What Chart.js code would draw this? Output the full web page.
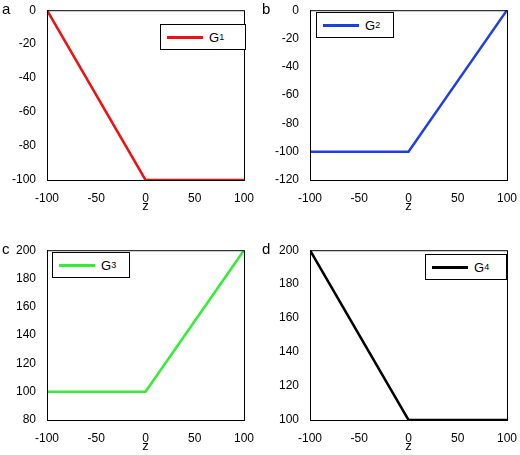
<!DOCTYPE html>
<html><head><meta charset="utf-8">
<script src="https://cdn.jsdelivr.net/npm/chart.js@4"></script>
<style>
body{margin:0;background:#fff;font-family:"Liberation Sans",Arial,sans-serif}
#wrap{position:relative;width:520px;height:455px}
canvas{position:absolute}
.lbl{position:absolute;font-size:15px}
.leg{position:absolute;border:1px solid #000;background:#fff;font-size:13px;display:flex;align-items:center;height:24px}
.leg sub{font-size:9px}
.leg span.l{display:inline-block;width:36px;height:3px;margin:0 6px}
</style></head><body>
<div id="wrap">
<canvas id="ca" style="left:0;top:0"></canvas>
<canvas id="cb" style="left:260px;top:0"></canvas>
<canvas id="cc" style="left:0;top:240px"></canvas>
<canvas id="cd" style="left:260px;top:240px"></canvas>
<div class="lbl" style="left:2px;top:0">a</div>
<div class="lbl" style="left:262px;top:0">b</div>
<div class="lbl" style="left:2px;top:240px">c</div>
<div class="lbl" style="left:262px;top:240px">d</div>
<div class="leg" style="left:160px;top:24px;width:84px"><span class="l" style="background:#ee1111"></span>G<sub>1</sub></div>
<div class="leg" style="left:316px;top:12px;width:76px"><span class="l" style="background:#1f3fe0"></span>G<sub>2</sub></div>
<div class="leg" style="left:52px;top:252px;width:76px"><span class="l" style="background:#33ee33"></span>G<sub>3</sub></div>
<div class="leg" style="left:425px;top:254px;width:80px"><span class="l" style="background:#000"></span>G<sub>4</sub></div>
</div>
<script>
const zVals = [-100, 0, 100];
const g1 = [0, -100, -100];
const g2 = [-100, -100, 0];
const g3 = [100, 100, 200];
const g4 = [200, 100, 100];

const frame = {
  id: 'frame',
  afterDraw(c) {
    const a = c.chartArea, ctx = c.ctx;
    ctx.save(); ctx.strokeStyle = '#000'; ctx.lineWidth = 1;
    ctx.strokeRect(a.left + 0.5, a.top + 0.5, a.right - a.left, a.bottom - a.top);
    ctx.restore();
  }
};

function panel(id, w, yW, ys, color, ymin, ymax, rightPad) {
  const cv = document.getElementById(id);
  cv.width = w; cv.height = 214;
  cv.style.width = w + 'px'; cv.style.height = '214px';
  new Chart(cv, {
    type: 'scatter',
    data: { datasets: [{ data: zVals.map((z, i) => ({ x: z, y: ys[i] })), showLine: true,
      borderColor: color, borderWidth: 2.5, pointRadius: 0 }] },
    options: {
      responsive: false, animation: false,
      layout: { padding: { top: 7, right: rightPad } },
      plugins: { legend: { display: false }, tooltip: { enabled: false } },
      scales: {
        x: { min: -100, max: 100, ticks: { stepSize: 50, color: '#000', font: { size: 12 }, maxRotation: 0 },
          grid: { display: false }, border: { color: '#000' },
          title: { display: true, text: 'z', color: '#000', font: { size: 13 }, padding: { top: 4, bottom: 0 } },
          afterFit(s) { s.height = 34; } },
        y: { min: ymin, max: ymax, ticks: { stepSize: 20, color: '#000', font: { size: 12 } },
          grid: { display: false }, border: { color: '#000' },
          afterFit(s) { s.width = yW; } }
      }
    },
    plugins: [frame]
  });
}
panel('ca', 260, 47, g1, '#ee1111', -100, 0, 16);
panel('cb', 260, 50, g2, '#1f3fe0', -120, 0, 12);
panel('cc', 260, 47, g3, '#33ee33', 80, 200, 16);
panel('cd', 260, 50, g4, '#000000', 100, 200, 12);
</script>
</body></html>
